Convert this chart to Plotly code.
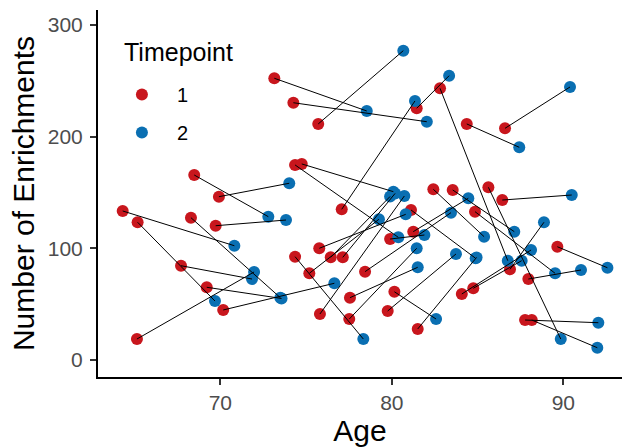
import plotly.graph_objects as go

# Timepoint 1 (red) and paired Timepoint 2 (blue) values
age_t1 = [64.31, 65.18, 65.14, 67.71, 68.29, 68.48, 69.21, 69.73, 69.92, 70.17,
          73.15, 74.26, 74.36, 74.75, 74.36, 75.19, 75.71, 75.77, 75.81, 76.44,
          77.08, 77.14, 77.52, 77.56, 78.44, 79.76, 79.90, 80.15, 81.12, 81.25,
          81.45, 81.51, 82.42, 82.81, 83.55, 84.08, 84.37, 84.75, 84.85, 85.63,
          86.44, 86.60, 86.89, 87.77, 87.96, 88.16, 89.65]
enr_t1 = [133.4, 123.3, 18.8, 84.4, 127.4, 165.6, 65.1, 120.2, 146.2, 44.8,
          252.2, 230.3, 174.6, 175.5, 92.5, 77.6, 211.3, 100.0, 41.2, 91.9,
          134.9, 91.9, 36.7, 55.8, 79.1, 43.9, 108.3, 61.1, 134.3, 114.9,
          225.3, 27.8, 152.8, 243.2, 152.2, 59.1, 211.3, 64.2, 132.8, 154.6,
          143.2, 207.4, 81.2, 35.8, 72.5, 35.8, 101.4]
age_t2 = [70.82, 69.69, 71.97, 71.85, 73.50, 72.80, 73.57, 73.83, 74.02, 76.65,
          78.54, 82.04, 80.38, 80.09, 78.34, 79.25, 80.67, 80.81, 80.73, 79.90,
          81.35, 80.19, 81.45, 81.51, 83.45, 83.74, 81.90, 82.58, 84.89, 84.46,
          83.34, 84.94, 85.38, 86.76, 87.14, 88.12, 87.43, 87.57, 89.52, 89.85,
          90.49, 90.39, 88.87, 92.04, 91.03, 91.98, 92.57]
enr_t2 = [102.3, 52.8, 78.8, 72.5, 55.8, 128.3, 55.1, 125.3, 158.2, 68.7,
          222.9, 213.3, 109.8, 150.7, 18.8, 126.0, 276.9, 130.4, 146.8, 146.4,
          231.9, 149.1, 100.0, 83.0, 131.9, 94.9, 111.9, 36.7, 91.0, 144.8,
          254.5, 91.8, 110.4, 88.9, 114.9, 98.5, 190.4, 88.9, 77.6, 18.8,
          147.7, 244.4, 123.3, 33.4, 80.6, 11.0, 82.6]

x_ticks = [70, 80, 90]
y_ticks = [0, 100, 200, 300]
timepoints = ["1", "2"]
legend_title = "Timepoint"
colors = {"1": "#C8161D", "2": "#0A6FB2"}

# connecting segments between each subject's two timepoints
seg_x, seg_y = [], []
for a1, e1, a2, e2 in zip(age_t1, enr_t1, age_t2, enr_t2):
    seg_x += [a1, a2, None]
    seg_y += [e1, e2, None]

fig = go.Figure()
fig.add_trace(go.Scatter(x=age_t1, y=enr_t1, mode="markers", name=timepoints[0],
                         legendgroup="a",
                         marker=dict(color=colors["1"], size=12, line=dict(width=0))))
fig.add_trace(go.Scatter(x=age_t2, y=enr_t2, mode="markers", name=timepoints[1],
                         legendgroup="b",
                         marker=dict(color=colors["2"], size=12, line=dict(width=0))))
fig.add_trace(go.Scatter(x=seg_x, y=seg_y, mode="lines", showlegend=False,
                         line=dict(color="black", width=1), hoverinfo="skip"))

font_family = "Liberation Sans, Arial, sans-serif"
fig.update_layout(
    width=628, height=447,
    margin=dict(l=98, r=6, t=10, b=70),
    paper_bgcolor="white", plot_bgcolor="white",
    font=dict(family=font_family, color="black"),
    showlegend=True,
    legend=dict(
        x=0.017, y=0.823, xanchor="left", yanchor="top",
        font=dict(size=20, color="black"),
        bgcolor="rgba(0,0,0,0)",
        tracegroupgap=9,
        itemwidth=60,
    ),
    annotations=[dict(
        text=legend_title, xref="paper", yref="paper",
        x=0.0458, y=0.8856, xanchor="left", yanchor="middle",
        showarrow=False, font=dict(size=25, color="black"),
    )],
    xaxis=dict(
        range=[62.87, 93.42], tickvals=x_ticks, ticktext=[str(v) for v in x_ticks],
        showgrid=False, zeroline=False,
        showline=True, linecolor="black", linewidth=2,
        ticks="outside", ticklen=6, tickwidth=1.5, tickcolor="#333333",
        tickfont=dict(size=21, color="#4D4D4D"),
        title=dict(text="Age", font=dict(size=30, color="black"), standoff=4),
    ),
    yaxis=dict(
        range=[-15.2, 313.3], tickvals=y_ticks, ticktext=[str(v) for v in y_ticks],
        showgrid=False, zeroline=False,
        showline=True, linecolor="black", linewidth=2,
        ticks="outside", ticklen=6, tickwidth=1.5, tickcolor="#333333",
        tickfont=dict(size=21, color="#4D4D4D"),
        ticklabelstandoff=3,
        title=dict(text="Number of Enrichments", font=dict(size=30, color="black"), standoff=4),
    ),
)

fig.write_html("out.html")
